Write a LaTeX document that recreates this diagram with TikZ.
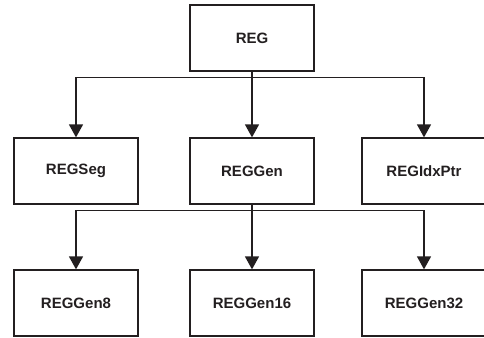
\documentclass[tikz,border=0pt]{standalone}
\usepackage{fontspec}
\setmainfont{Liberation Sans}
\usepackage{xcolor}
\usetikzlibrary{arrows.meta}
\definecolor{ink}{HTML}{231F20}
\tikzset{
  box/.style={draw=ink, line width=1.3pt, minimum width=124pt, minimum height=66pt,
    inner sep=0pt, text=ink, font=\fontsize{15}{18}\selectfont\bfseries},
  link/.style={draw=ink, line width=1.5pt, -{Triangle[length=13pt,width=14pt]}},
}
\begin{document}
\begin{tikzpicture}[x=1pt,y=-1pt]
  \useasboundingbox (0,0) rectangle (484,337);
  % top
  \node[box] (reg) at (252,38) {REG};
  % middle row
  \node[box] (seg) at (76,171) {REGSeg};
  \node[box] (gen) at (252,171) {REGGen};
  \node[box] (idx) at (424,171) {REGIdxPtr};
  % bottom row
  \node[box] (gen8) at (76,303) {REGGen8};
  \node[box] (gen16) at (252,303) {REGGen16};
  \node[box] (gen32) at (424,303) {REGGen32};
  % connectors
  \draw[link] (reg.south) -- ++(0,6) -| (seg.north);
  \draw[link] (reg.south) -- (gen.north);
  \draw[link] (reg.south) -- ++(0,6) -| (idx.north);
  \draw[link] (gen.south) -- ++(0,6) -| (gen8.north);
  \draw[link] (gen.south) -- (gen16.north);
  \draw[link] (gen.south) -- ++(0,6) -| (gen32.north);
\end{tikzpicture}
\end{document}
